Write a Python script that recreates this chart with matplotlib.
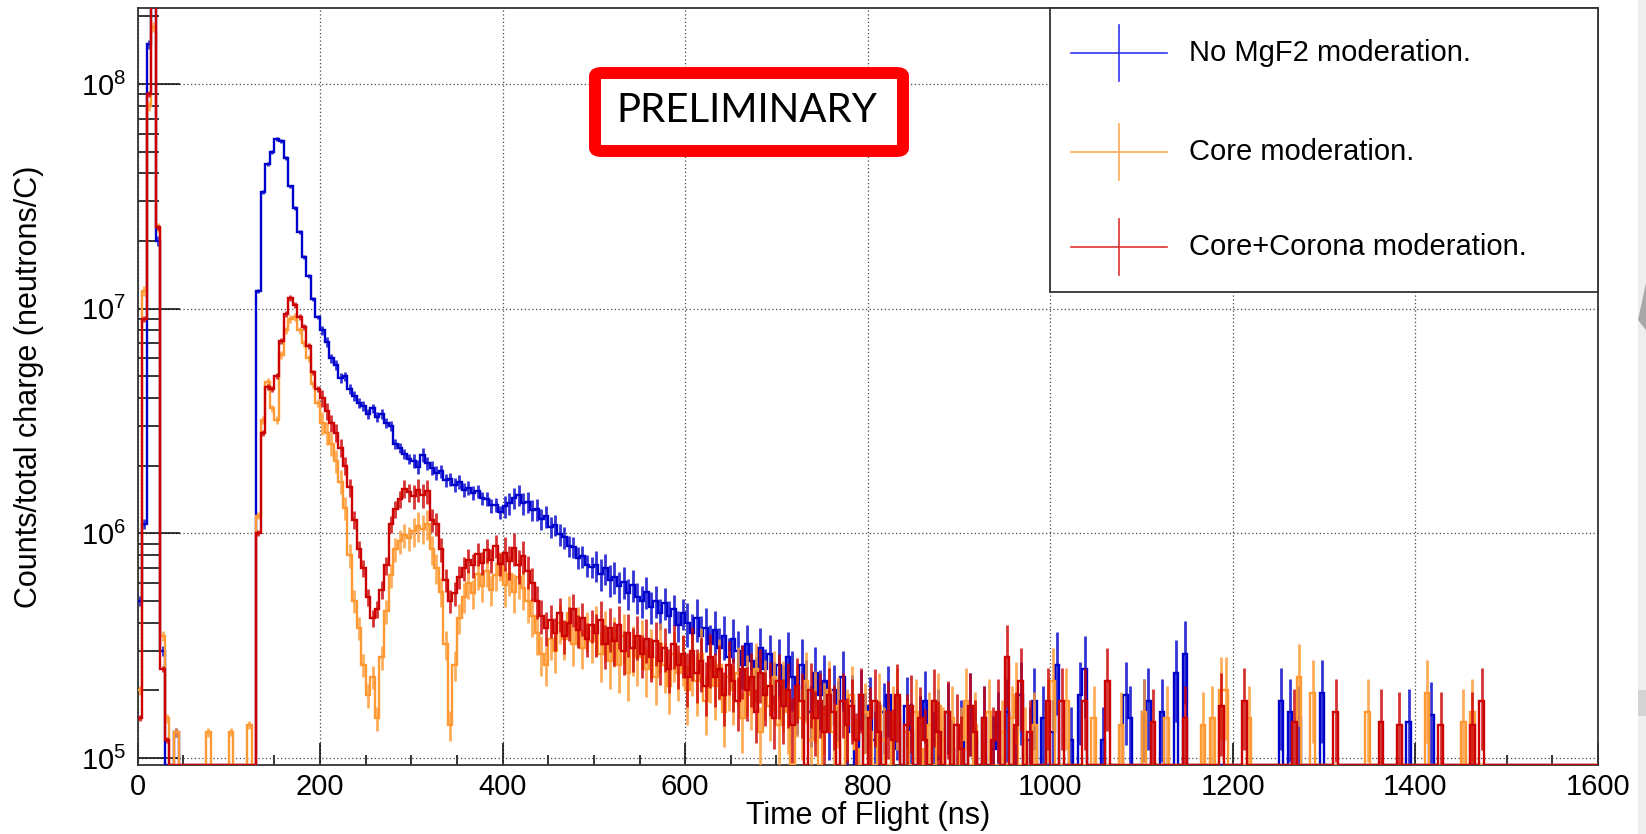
import numpy as np
import matplotlib
matplotlib.use("Agg")
import matplotlib.pyplot as plt
from matplotlib.patches import FancyBboxPatch, Rectangle, Polygon
from matplotlib.lines import Line2D
from matplotlib.ticker import LogLocator, MultipleLocator, NullFormatter, FixedLocator

plt.rcParams['font.family'] = ['Liberation Sans', 'DejaVu Sans']
plt.rcParams['mathtext.fontset'] = 'custom'
plt.rcParams['mathtext.rm'] = 'Liberation Sans'
plt.rcParams['mathtext.it'] = 'Liberation Sans:italic'
plt.rcParams['mathtext.bf'] = 'Liberation Sans:bold'

# ---------------- data (values in units of 1e5 neutrons/C, 5 ns bins, 0-1600 ns) ----------------
UNIT = 1e5
bin_width_ns = 5
tof_edges = np.arange(0, 1600 + bin_width_ns, bin_width_ns)

no_mgf2 = [
    5, 11, 1500, 3000, 200, 3, 0, 0, 1.3, 0, 0, 0, 0, 0, 0, 0, 0, 0, 0, 0,
    0, 0, 0, 0, 0, 0, 120, 330, 440, 500, 570, 560, 470, 350, 280, 220, 170, 140, 110, 92,
    80, 71, 60, 56, 49, 50, 44, 41, 38, 37, 34, 36, 33, 34, 31, 30, 25, 24, 22.5, 21.5,
    21, 19.8, 22.3, 20.5, 19.6, 18.6, 18.9, 17.2, 17.4, 16.4, 16.9, 15.6, 15.9, 15.1, 15.4, 14.3, 14.2, 13.3, 13.4, 12.4,
    13.2, 13.6, 14.4, 14.8, 13.6, 13.8, 12.7, 12.8, 11.6, 11.9, 10.7, 10.9, 9.9, 9.6, 8.8, 8.7, 7.8, 7.9, 7.2, 7.1,
    7.2, 6.6, 7.0, 6.2, 6.4, 5.8, 6.1, 5.4, 5.9, 5.2, 5.0, 5.5, 4.7, 5.0, 4.4, 4.9, 4.3, 4.6, 3.9, 4.4,
    4.0, 3.6, 4.2, 3.5, 3.8, 3.2, 3.7, 3.1, 3.5, 2.8, 3.4, 3.0, 2.6, 3.2, 2.7, 2.3, 3.1, 2.5, 2.9, 2.2,
    2.6, 2.0, 2.8, 2.3, 1.8, 2.6, 2.1, 1.6, 2.4, 1.9, 2.2, 1.4, 2.0, 1.7, 2.3, 1.3, 1.8, 0, 1.9, 1.5,
    1.7, 1.2, 0, 1.6, 1.9, 1.1, 1.5, 0, 1.7, 1.3, 0, 1.4, 1.8, 0, 1.2, 1.5, 0, 1.6, 1.1, 0,
    1.3, 0, 1.7, 1.2, 0, 1.5, 0, 1.1, 1.4, 0, 1.6, 0, 1.3, 1.9, 0, 1.2, 1.8, 0, 1.5, 0,
    1.3, 2.6, 0, 0, 1.2, 0, 1.9, 2.5, 0, 0, 0, 1.2, 0, 0, 0, 0, 1.9, 1.5, 0, 0,
    1.6, 1.8, 0, 0, 1.6, 0, 0, 2.4, 0, 2.9, 0, 0, 0, 0, 0, 0, 0, 0, 0, 0,
    0, 0, 0, 0, 0, 0, 0, 0, 0, 0, 1.8, 0, 1.6, 0, 1.5, 0, 0, 0, 0, 1.95,
    0, 0, 0, 0, 0, 0, 0, 0, 0, 0, 0, 0, 0, 0, 0, 0, 0, 0, 1.45, 0,
    0, 0, 0, 1.55, 0, 0, 0, 0, 0, 0, 0, 0, 0, 0, 0, 0, 0, 0, 0, 0,
    0, 0, 0, 0, 0, 0, 0, 0, 0, 0, 0, 0, 0, 0, 0, 0, 0, 0, 0, 0,
]

core = [
    2, 120, 800, 1800, 230, 3.5, 1.5, 0, 1.3, 0, 0, 0, 0, 0, 0, 1.3, 0, 0, 0, 0,
    1.3, 0, 0, 0, 1.4, 0, 12, 32, 47, 36, 32, 62, 80, 90, 92, 80, 70, 60, 46, 38,
    31, 28, 25, 21, 17, 13, 8, 5, 3.8, 2.6, 1.9, 2.3, 1.5, 2.8, 4.5, 6.5, 8.5, 9.2, 9.8, 9.5,
    10.2, 10.8, 10.5, 11, 8.5, 7, 5.5, 3.2, 1.4, 2.6, 4.2, 5.2, 6.0, 5.4, 6.6, 5.8, 6.8, 5.6, 6.5, 7.2,
    5.9, 6.6, 5.5, 6.4, 5.7, 5.0, 4.3, 3.6, 2.9, 2.6, 3.4, 3.0, 4.0, 3.4, 4.4, 3.2, 3.9, 3.1, 3.7, 3.3,
    3.8, 2.9, 3.6, 2.7, 3.4, 2.6, 3.5, 2.4, 3.1, 2.8, 3.3, 2.5, 3.0, 2.3, 3.2, 2.6, 2.1, 2.9, 2.4, 2.8,
    2.0, 2.7, 2.2, 2.9, 1.8, 2.5, 2.1, 2.6, 1.6, 2.3, 2.0, 2.4, 1.5, 2.2, 1.9, 2.5, 1.3, 2.1, 1.7, 2.3,
    1.4, 2.0, 1.6, 0, 1.9, 1.5, 2.2, 1.2, 1.8, 0, 1.6, 2.0, 1.3, 1.7, 0, 1.5, 1.9, 1.1, 0, 1.6,
    1.3, 0, 1.7, 1.2, 0, 1.5, 1.8, 0, 1.3, 0, 1.6, 1.1, 0, 1.4, 0, 1.7, 1.2, 0, 1.5, 0,
    1.2, 1.8, 0, 1.4, 0, 1.1, 1.6, 0, 0, 1.3, 0, 1.5, 1.9, 0, 1.2, 0, 1.4, 0, 0, 1.6,
    2.2, 0, 0, 1.8, 0, 0, 0, 0, 0, 1.5, 0, 0, 0, 0, 0, 1.4, 0, 0, 0, 0,
    1.6, 0, 0, 0, 0, 1.5, 0, 0, 0, 0, 0, 0, 0, 1.4, 0, 1.5, 0, 2.0, 2.0, 0,
    0, 0, 0, 1.5, 0, 0, 0, 0, 0, 0, 0, 0, 0, 0, 2.3, 0, 0, 1.95, 0, 0,
    0, 0, 0, 0, 0, 0, 0, 0, 0, 1.6, 0, 0, 0, 0, 0, 0, 0, 0, 0, 0,
    0, 0, 1.95, 0, 0, 0, 0, 0, 0, 0, 1.45, 0, 1.6, 0, 0, 0, 0, 0, 0, 0,
    0, 0, 0, 0, 0, 0, 0, 0, 0, 0, 0, 0, 0, 0, 0, 0, 0, 0, 0, 0,
]

core_corona = [
    1.5, 90, 900, 2600, 230, 2.5, 1.2, 0, 0, 0, 0, 0, 0, 0, 0, 0, 0, 0, 0, 0,
    0, 0, 0, 0, 0, 0, 10, 28, 45, 44, 50, 72, 95, 112, 104, 92, 83, 68, 52, 44,
    40, 35, 31, 28, 24, 20, 16, 11.5, 8.5, 7, 5.2, 4.2, 4.6, 5.6, 7.2, 11, 12.8, 14.2, 15.8, 15.2,
    14.6, 15.6, 14.8, 15.4, 11.5, 11, 8.5, 6.2, 5.0, 5.4, 6.4, 7.0, 7.6, 7.2, 8.1, 7.4, 8.4, 7.6, 8.8, 7.3,
    8.2, 7.5, 8.6, 7.2, 7.9, 6.8, 6.0, 5.0, 4.3, 3.8, 4.1, 3.6, 4.4, 3.5, 4.0, 4.6, 3.7, 4.2, 3.4, 3.9,
    3.6, 4.1, 3.2, 3.8, 3.3, 3.9, 3.0, 3.6, 3.1, 3.5, 2.9, 3.4, 2.8, 3.3, 2.7, 3.1, 2.5, 3.2, 2.6, 2.9,
    2.3, 3.0, 2.4, 2.7, 2.1, 2.8, 2.3, 2.5, 1.9, 2.6, 2.2, 1.8, 2.5, 2.0, 2.3, 1.6, 2.4, 1.9, 2.1, 1.5,
    2.2, 1.7, 2.0, 1.4, 2.1, 1.8, 0, 2.0, 1.5, 1.8, 1.3, 1.9, 1.6, 0, 1.8, 1.4, 1.7, 1.2, 1.9, 0,
    1.5, 1.8, 1.3, 0, 1.6, 1.2, 1.9, 0, 1.4, 1.7, 0, 1.5, 1.2, 0, 1.8, 1.3, 0, 1.6, 0, 1.4,
    1.1, 0, 1.7, 1.3, 0, 1.5, 0, 1.2, 1.6, 0, 2.8, 0, 1.4, 2.2, 0, 1.3, 0, 0, 0, 1.8,
    0, 0, 1.8, 0, 0, 0, 0, 1.8, 0, 0, 0, 0, 2.2, 0, 0, 0, 0, 0, 0, 0,
    0, 0, 1.45, 0, 0, 0, 0, 0, 0, 1.5, 0, 0, 0, 0, 0, 0, 0, 1.7, 0, 0,
    0, 0, 1.8, 0, 0, 0, 0, 0, 0, 0, 0, 0, 0, 1.45, 0, 0, 0, 0, 0, 0,
    0, 0, 1.6, 0, 0, 0, 0, 0, 0, 0, 0, 0, 1.45, 0, 0, 0, 1.4, 0, 0, 0,
    0, 0, 0, 0, 0, 1.4, 0, 0, 0, 0, 0, 0, 1.4, 0, 1.8, 0, 0, 0, 0, 0,
    0, 0, 0, 0, 0, 0, 0, 0, 0, 0, 0, 0, 0, 0, 0, 0, 0, 0, 0, 0,
]

# relative error-bar half-size, one value per 100 ns
no_mgf2_relerr = [0.05, 0.02, 0.05, 0.07, 0.11, 0.16, 0.22, 0.3, 0.35, 0.4, 0.4, 0.4, 0.4, 0.4, 0.4, 0.4]
core_relerr = [0.05, 0.04, 0.12, 0.15, 0.2, 0.25, 0.3, 0.35, 0.4, 0.4, 0.4, 0.4, 0.4, 0.4, 0.4, 0.4]
core_corona_relerr = [0.03, 0.03, 0.09, 0.12, 0.17, 0.22, 0.27, 0.32, 0.38, 0.4, 0.4, 0.4, 0.4, 0.4, 0.4, 0.4]

series_labels = ["No MgF2 moderation.", "Core moderation.", "Core+Corona moderation."]
series_colors = ["#0000cc", "#ff9933", "#cc0000"]
legend_colors = ["#3333ee", "#ffaa55", "#dd3333"]
x_ticks = [0, 200, 400, 600, 800, 1000, 1200, 1400, 1600]
y_ticks = [1e5, 1e6, 1e7, 1e8]

# ---------------- figure ----------------
W, H = 1646, 834
fig = plt.figure(figsize=(W / 100, H / 100), dpi=100)
fig.patch.set_facecolor("white")

def fx(x):
    return x / W

def fy(y):
    return 1 - y / H

ax_l, ax_r, ax_t, ax_b = 137.5, 1598, 8, 765
ax = fig.add_axes([fx(ax_l), fy(ax_b), (ax_r - ax_l) / W, (ax_b - ax_t) / H])

ymin, ymax = 9.3e4, 2.18e8
ax.set_yscale("log")
ax.set_xlim(0, 1600)
ax.set_ylim(ymin, ymax)

centers = 0.5 * (tof_edges[:-1] + tof_edges[1:])
for vals, rel, col in zip([no_mgf2, core, core_corona],
                          [no_mgf2_relerr, core_relerr, core_corona_relerr], series_colors):
    v = np.asarray(vals, dtype=float) * UNIT
    r = np.repeat(np.asarray(rel), 20)
    nz = v > 0
    ax.vlines(centers[nz], v[nz] * (1 - r[nz]), v[nz] * (1 + r[nz]), color=col, lw=2.0,
              alpha=0.8, zorder=3)
    vs = np.where(nz, v, ymin)
    ax.stairs(vs, tof_edges, color=col, lw=1.7, baseline=None, zorder=3)

# grid
ax.grid(True, which="major", axis="both", linestyle=(0, (1, 2)), color="#444444", lw=0.9)
ax.set_axisbelow(True)

ax.set_xticks(x_ticks)
ax.xaxis.set_minor_locator(MultipleLocator(50))
ax.yaxis.set_major_locator(FixedLocator(y_ticks))
ax.yaxis.set_minor_locator(LogLocator(base=10, subs=np.arange(2, 10)))
ax.yaxis.set_minor_formatter(NullFormatter())

ax.tick_params(axis="x", which="major", direction="in", length=16, width=1.1, labelsize=21, pad=6,
               top=False, bottom=True)
ax.tick_params(axis="x", which="minor", direction="in", length=7, width=1.1, top=False)
ax.tick_params(axis="y", which="major", direction="in", length=30, width=1.1, labelsize=21, pad=8,
               right=False, left=True)
ax.tick_params(axis="y", which="minor", direction="in", length=15, width=1.1, right=False)

for s in ax.spines.values():
    s.set_linewidth(1.3)
    s.set_color("#333333")

ax.set_xlabel("Time of Flight (ns)", fontsize=22)
ax.set_ylabel("Counts/total charge (neutrons/C)", fontsize=22)
ax.xaxis.set_label_coords(0.5, -0.047)
ax.yaxis.set_label_coords(-0.064, 0.5)

# ---------------- legend (drawn as a ROOT style box) ----------------
lg_l, lg_r, lg_t, lg_b = 1050, 1598, 8, 292
fig.add_artist(Rectangle((fx(lg_l), fy(lg_b)), (lg_r - lg_l) / W, (lg_b - lg_t) / H,
                         transform=fig.transFigure, facecolor="white", edgecolor="#333333",
                         lw=1.3, zorder=5))
row_y = [53, 152, 247]
for yc, lab, col in zip(row_y, series_labels, legend_colors):
    fig.add_artist(Line2D([fx(1071), fx(1167)], [fy(yc), fy(yc)], color=col, lw=1.2,
                          transform=fig.transFigure, zorder=6))
    fig.add_artist(Line2D([fx(1119), fx(1119)], [fy(yc - 28), fy(yc + 28)], color=col, lw=1.2,
                          transform=fig.transFigure, zorder=6))
    fig.text(fx(1189), fy(yc), lab, fontsize=21, va="center", ha="left", zorder=6)

# ---------------- PRELIMINARY stamp ----------------
fig.add_artist(FancyBboxPatch((fx(595), fy(151)), (903 - 595) / W, (151 - 73) / H,
                              boxstyle="round,pad=0,rounding_size=0.004",
                              transform=fig.transFigure, facecolor="white",
                              edgecolor="#ff0000", lw=8.6, zorder=7))
fig.text(fx(747), fy(111), "PRELIMINARY", fontsize=29, family=["Lato", "DejaVu Sans"],
         ha="center", va="center", color="black", zorder=8)

# ---------------- screenshot edge at the far right ----------------
fig.add_artist(Rectangle((fx(1638), 0), 8 / W, 1, transform=fig.transFigure,
                         facecolor="#eeeeee", edgecolor="none", zorder=1))
fig.add_artist(Polygon([(fx(1646), fy(283)), (fx(1638), fy(320)), (fx(1646), fy(330))],
                       closed=True, transform=fig.transFigure, facecolor="#a8a8a8",
                       edgecolor="none", zorder=2))
fig.add_artist(Rectangle((fx(1638), fy(716)), 8 / W, 26 / H, transform=fig.transFigure,
                         facecolor="#d4d4d4", edgecolor="none", zorder=2))

fig.savefig("out.png", dpi=100, facecolor="white")
